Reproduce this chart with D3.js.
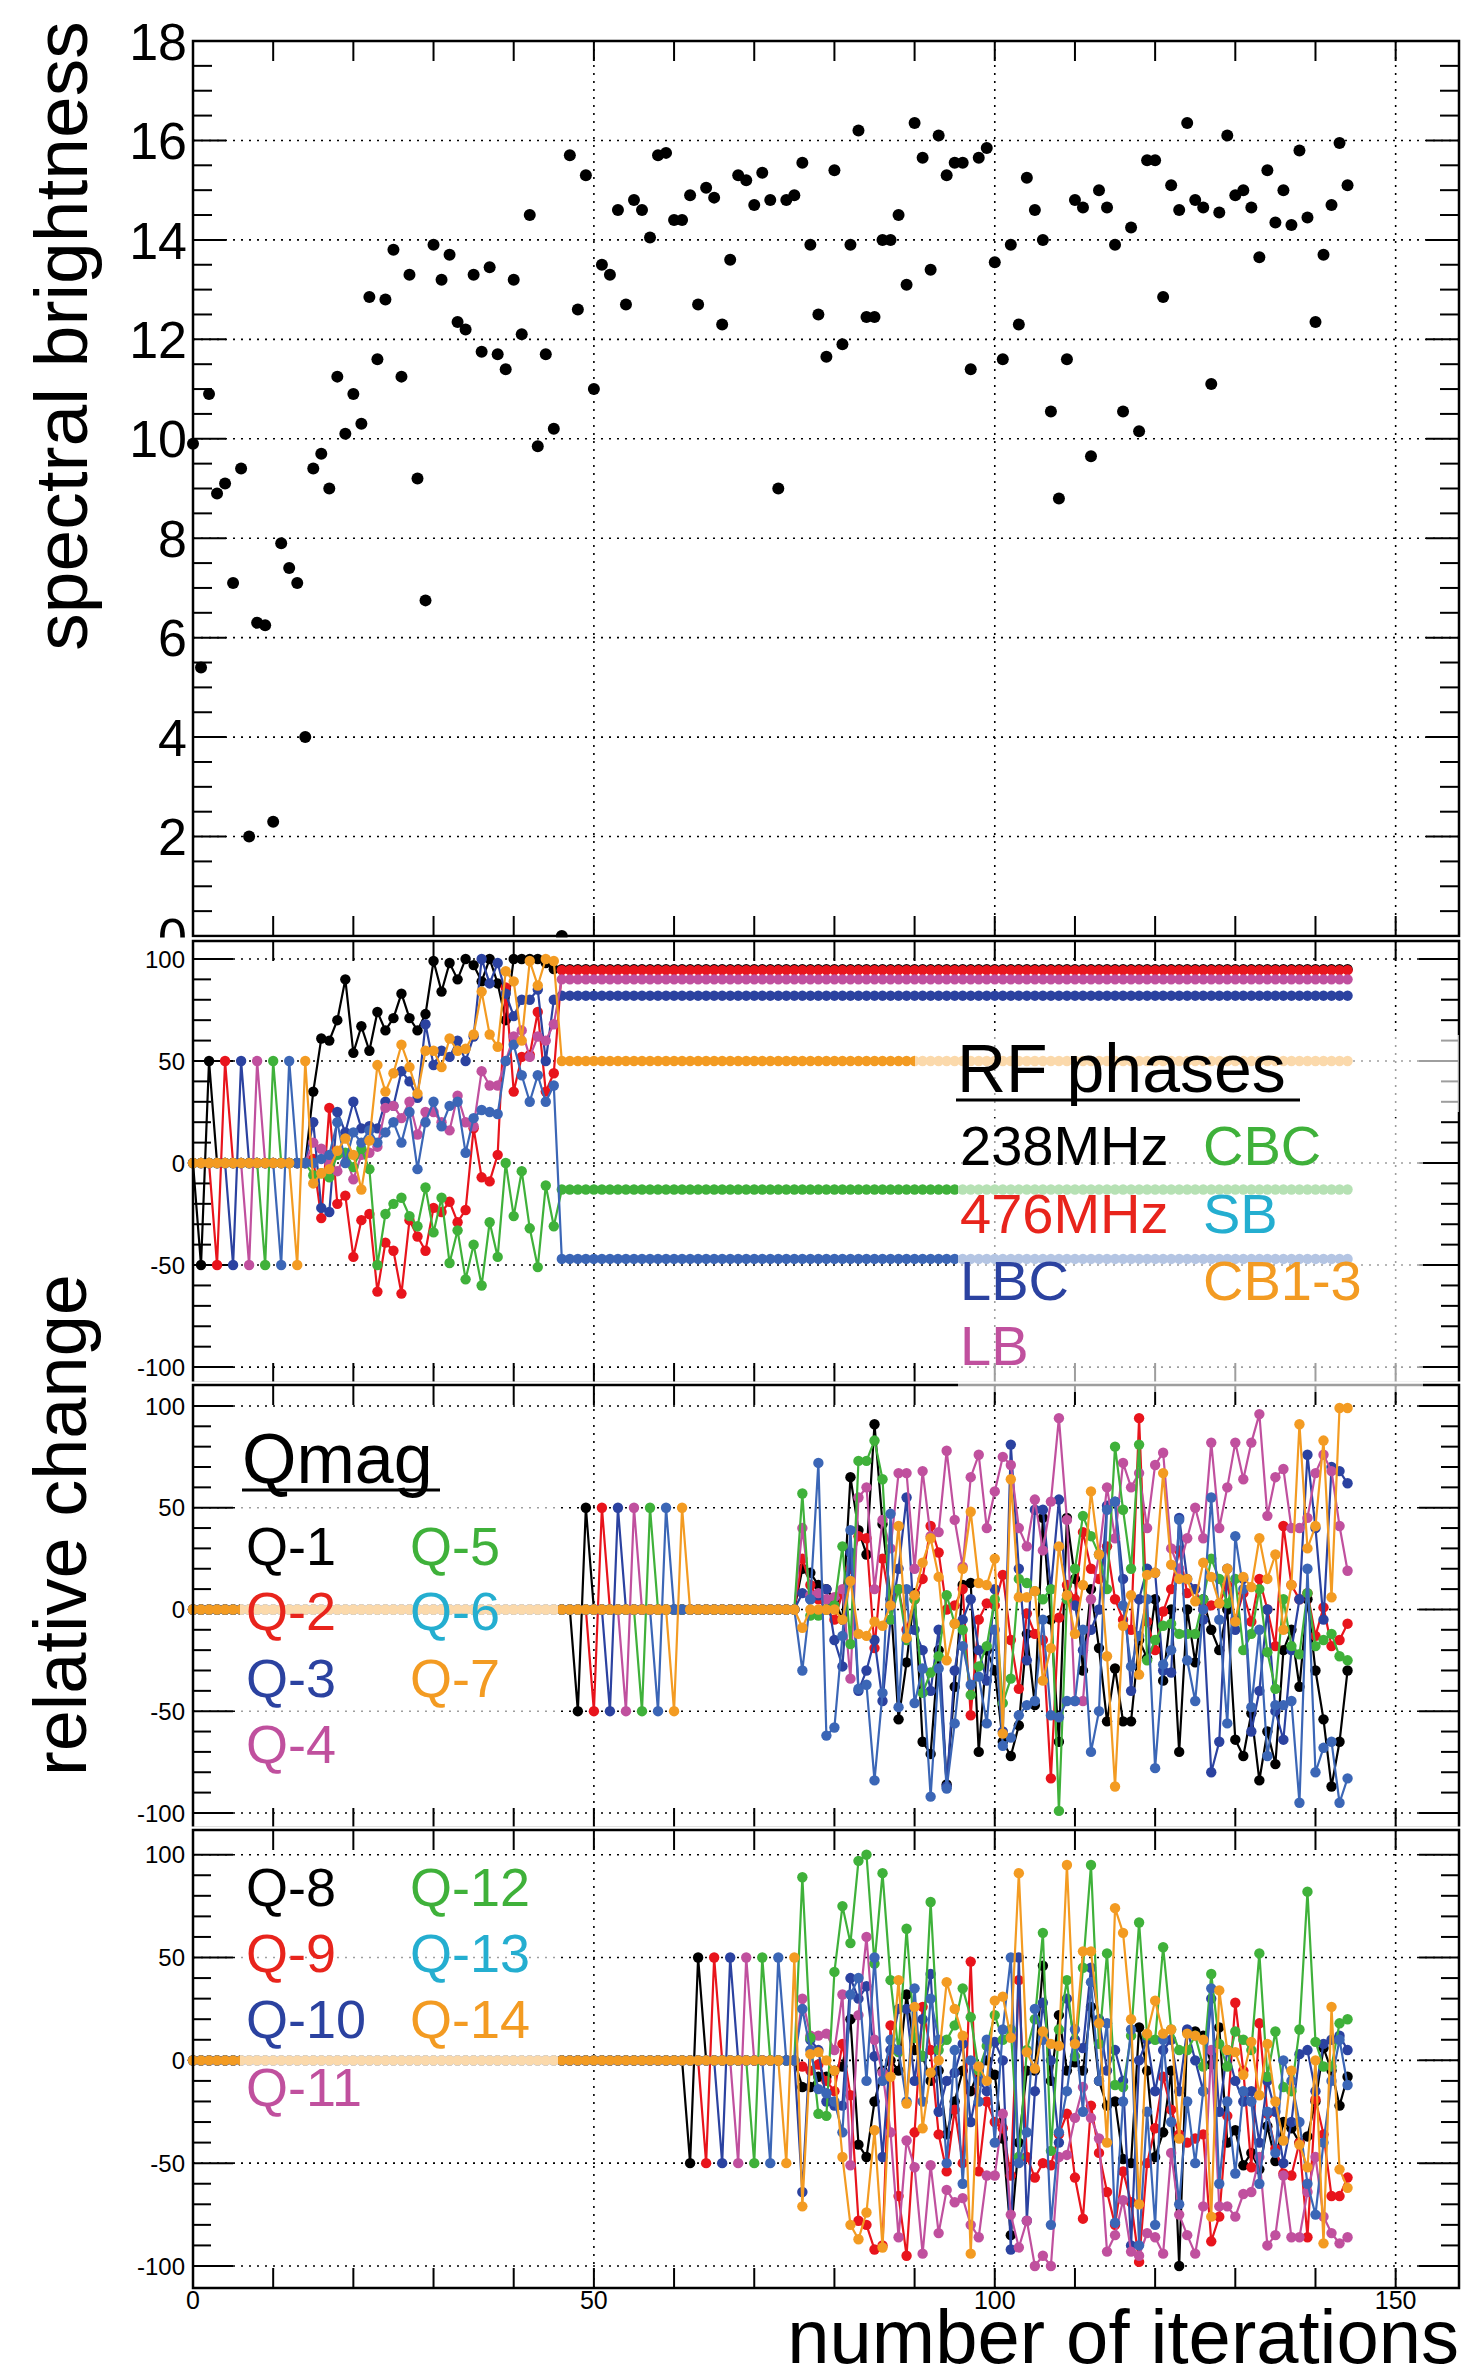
<!DOCTYPE html>
<html>
<head>
<meta charset="utf-8">
<script src="https://cdn.jsdelivr.net/npm/d3@7"></script>
<style>
  body { margin: 0; background: #fff; }
  svg { display: block; font-family: "Liberation Sans", Arial, Helvetica, sans-serif; }
</style>
</head>
<body>
<div id="chart"></div>
<script>
// ---------------- data ----------------
// spectral brightness, iteration 0..144
const brightness = [
  9.9, 5.4, 10.9, 8.9, 9.1, 7.1, 9.4, 2.0, 6.3, 6.25,
  2.3, 7.9, 7.4, 7.1, 4.0, 9.4, 9.7, 9.0, 11.25, 10.1,
  10.9, 10.3, 12.85, 11.6, 12.8, 13.8, 11.25, 13.3, 9.2, 6.75,
  13.9, 13.2, 13.7, 12.35, 12.2, 13.3, 11.75, 13.45, 11.7, 11.4,
  13.2, 12.1, 14.5, 9.85, 11.7, 10.2, 0, 15.7, 12.6, 15.3,
  11.0, 13.5, 13.3, 14.6, 12.7, 14.8, 14.6, 14.05, 15.7, 15.75,
  14.4, 14.4, 14.9, 12.7, 15.05, 14.85, 12.3, 13.6, 15.3, 15.2,
  14.7, 15.35, 14.8, 9.0, 14.8, 14.9, 15.55, 13.9, 12.5, 11.65,
  15.4, 11.9, 13.9, 16.2, 12.45, 12.45, 14.0, 14.0, 14.5, 13.1,
  16.35, 15.65, 13.4, 16.1, 15.3, 15.55, 15.55, 11.4, 15.65, 15.85,
  13.55, 11.6, 13.9, 12.3, 15.25, 14.6, 14.0, 10.55, 8.8, 11.6,
  14.8, 14.65, 9.65, 15.0, 14.65, 13.9, 10.55, 14.25, 10.15, 15.6,
  15.6, 12.85, 15.1, 14.6, 16.35, 14.8, 14.65, 11.1, 14.55, 16.1,
  14.9, 15.0, 14.65, 13.65, 15.4, 14.35, 15.0, 14.3, 15.8, 14.45,
  12.35, 13.7, 14.7, 15.95, 15.1
];

// RF phases, optimisation part (iteration 15..45)
const rfNames = ["238MHz", "476MHz", "LBC", "LB", "CBC", "SB", "CB1-3"];
const rf238 = [35, 61, 60, 70, 90, 54, 67, 55, 74, 65,
  71, 83, 71, 65, 73, 99, 84, 98, 90, 100,
  97, 89, 100, 88, 70, 100, 100, 100, 100, 98, 95];
const rf476 = [2, -27, 27, -20, -16, -46, -28, -25, -63, -39,
  -43, -64, -28, -36, -43, -22, -24, -19, -29, -23,
  17, -7, -9, 4, 86, 35, 52, 53, 74, 35, 44];
const rfLBC = [20, -22, -24, 25, 15, 30, 17, 18, 17, 30,
  28, 45, 40, 32, 68, 48, 55, 52, 60, 50,
  62, 100, 88, 98, 83, 72, 80, 80, 85, 50, 80];
const rfLB = [10, 7, 0, -4, 4, -8, 4, 5, 8, 27,
  28, 22, 30, 14, 25, 25, 20, 16, 33, 20,
  18, 45, 38, 38, 50, 62, 65, 52, 62, 60, 68];
const rfCBC = [-6, -5, -7, 4, 5, -2, 7, -3, -50, -25,
  -20, -17, -26, -31, -12, -34, -17, -49, -33, -57,
  -40, -60, -29, -46, 0, -26, -4, -32, -51, -11, -31];
const rfSB = [0, 2, 4, 20, 0, 15, 10, 16, 10, 15,
  20, 10, 25, -3, 20, 30, 18, 28, 30, 5,
  22, 26, 25, 24, 50, 58, 43, 30, 43, 30, 38];
const rfCB = [-10, -5, -3, 6, 12, 4, -13, 11, 48, 35,
  44, 58, 47, 34, 55, 55, 47, 61, 55, 56,
  63, 84, 63, 57, 94, 89, 60, 99, 87, 100, 99];
// values held from iteration 46 on
const rfHold = [95, 94.5, 82, 90, -13, -47, 50];

// Q magnets, optimisation part (iteration 76..144)
const qNamesA = ["Q-1", "Q-2", "Q-3", "Q-4", "Q-5", "Q-6", "Q-7"];
const qNamesB = ["Q-8", "Q-9", "Q-10", "Q-11", "Q-12", "Q-13", "Q-14"];
const q1 = [20, 18, 12, 10, 5, -5, 65, 39, 27, 91,
  42, 5, -54, -26, 8, -65, -71, -20, -86, -38,
  12, 13, -70, -20, -30, -65, -72, -57, -12, -47,
  45, -5, -65, 45, 15, -30, 10, -19, -55, -29,
  -55, -55, -15, -24, 5, -35, 0, -70, 0, -26,
  5, -10, -20, 0, -64, -72, -51, -84, -60, -76,
  -20, -10, -38, 5, -30, -54, -87, -65, -30];
const q2 = [25, 12, 5, 0, -5, 8, 20, 36, 35, -19,
  25, 2, 10, -10, 5, 15, 41, 28, 0, 2,
  10, -52, -5, 3, 2, 17, -15, -39, -2, -12,
  -15, -83, -4, 12, 5, 38, 20, 15, 31, 5,
  -5, -10, 94, -6, -20, -1, 10, 29, 8, 10,
  0, 2, 3, 12, -5, 8, -6, 15, 0, -18,
  41, 12, 5, 8, -13, 1, -18, -15, -7];
const q3 = [8, 5, 7, 10, -15, -28, 28, -40, -30, -15,
  -45, -5, 20, 55, -10, -20, -40, -10, -87, -30,
  -5, 5, -20, -35, 10, -60, 81, 20, -25, 49,
  49, 10, 54, 5, 2, -20, -10, 0, 51, 53,
  15, -40, 5, 20, 18, -30, -31, 45, 15, 10,
  -5, -80, -65, 20, -10, 15, -60, -40, 0, -50,
  -64, -20, 5, 76, 40, -5, 70, 68, 62];
const q4 = [40, 7, 8, 5, 6, 10, -34, 55, 60, 10,
  44, 30, 67, 67, 20, 68, 36, 38, 78, 44,
  21, 65, 76, 40, 58, 75, 71, 40, 31, 54,
  29, 53, 94, 44, -45, -45, 5, 27, 60, 35,
  72, 60, 67, 40, 71, 77, 30, 20, 35, 50,
  35, 82, 40, 60, 82, 64, 82, 96, 46, 65,
  69, 40, 40, 45, 67, 76, 68, 41, 19];
const q5 = [57, -3, -3, 0, 2, 31, -17, 73, 73, 83,
  64, -5, 10, -15, 5, -41, -31, -23, 7, -7,
  -10, -42, -28, -18, 5, -46, -34, 15, 13, 9,
  5, 10, -99, 5, 20, 46, 36, 27, 10, 80,
  49, 20, 81, -25, -15, -8, -7, -12, -12, -12,
  5, 25, 15, 3, 15, -20, -12, 10, -21, -39,
  5, -18, -22, 8, -18, -15, -12, -23, -25];
const q6 = [-30, 5, 72, -62, -58, -13, 39, -39, -37, -84,
  -41, 47, -48, 10, -46, -29, -92, -29, -88, -56,
  -18, -37, -33, -56, -10, -67, -63, -52, -47, -45,
  -5, -52, -53, -45, -45, -10, -70, -50, 49, 53,
  2, -28, -13, 5, -78, -27, -20, 44, -25, -45,
  0, 55, -5, -56, 36, 10, -48, -10, -72, -47,
  -47, -45, -95, 20, -80, -68, -65, -95, -83];
const q7 = [-9, 0, 0, 0, 0, -5, 14, -12, -13, -6,
  -8, 2, 41, -14, 7, 23, 35, 16, -25, -7,
  20, 48, 13, 12, 25, -61, 64, 6, 6, 9,
  -35, -19, 31, 7, -12, 12, 58, 27, -23, -87,
  -8, 7, -32, 17, 18, 67, 22, 15, 15, 4,
  23, 16, 3, 20, -6, 16, 11, 35, 15, 27,
  -10, 12, 91, 30, 41, 83, 6, 99, 99];
const q8 = [-13, -13, -8, -8, -5, -3, 20, -41, -47, -20,
  -5, 0, -5, 32, 5, 2, -10, -5, -36, -20,
  -5, -15, -5, 0, -7, -38, -85, -40, -5, -5,
  46, -10, 22, -5, -1, -5, 26, -10, -22, -20,
  -48, -50, 16, -5, -47, -35, -5, -100, 14, 14,
  12, -2, 16, -40, -34, -51, -45, -53, -32, -49,
  -30, -33, -40, -37, -20, 6, -5, -22, -8];
const q9 = [-3, -5, -2, -10, -15, 8, -17, -78, -80, -92,
  -90, 17, -66, -95, -35, 26, 5, -36, -54, -24,
  -50, 48, -54, -20, -30, -33, -56, 39, -47, -57,
  -50, -51, -36, -26, -57, -77, -22, -45, -64, -80,
  -54, -69, -98, -50, -33, -8, -24, -36, -40, -38,
  -36, -88, -76, -27, 28, -5, -52, 18, -26, -43,
  -55, -56, -40, -86, -19, -36, -66, -66, -57];
const q10 = [-64, 10, 5, -20, -22, -22, 40, 30, 36, 2,
  -47, 5, 25, 25, -10, 20, 42, -25, -10, -6,
  8, -30, -10, -15, 9, 0, -92, 50, -78, -15,
  28, 0, -40, 30, 10, 6, 45, 20, -5, 5,
  -10, -90, 0, 10, -15, 5, 10, -15, 15, 0,
  -15, 30, -25, 5, -10, -20, -15, -40, -10, -25,
  -50, -30, 3, 5, -15, 8, 10, 12, 5];
const q11 = [30, 12, 12, 13, 5, 32, -51, 22, 60, 10,
  -6, -35, -86, -39, -52, -94, -51, -84, -63, -69,
  -67, -80, -86, -56, -56, -26, -75, -91, -78, -100,
  -95, -100, -47, -46, -28, -13, -28, -38, -93, -85,
  -68, -93, -95, -84, -86, -94, -45, -75, -85, -94,
  -71, 5, -71, -71, -76, -65, -64, -47, -90, -85,
  -56, -86, -86, -64, -47, -76, -84, -89, -86];
const q12 = [89, 11, -26, -27, 43, 75, 57, 97, 100, 47,
  91, 39, 4, 64, 11, 2, 77, 5, 10, 17,
  35, 21, -5, 7, 22, 10, 15, -47, 5, 20,
  62, -44, 15, 39, 2, 45, 95, 8, 52, -12,
  -13, 12, 67, 12, 10, 55, 15, 5, 5, 12,
  -3, 42, 8, -3, 14, 10, 5, 52, -8, 14,
  -13, -15, 15, 82, 9, -3, -3, 18, 20];
const q13 = [25, 5, -14, -16, -20, -35, 32, 40, -10, 50,
  -10, 10, 5, -20, 35, -20, 30, 10, -50, 5,
  -60, 0, -20, 10, -40, 15, 50, -50, -35, 25,
  10, -80, -35, -15, 15, -25, 38, -10, 18, -79,
  -20, 15, -90, -25, -80, 10, -30, -70, -20, -50,
  -15, 35, -60, -20, -55, -15, -20, -60, -25, -45,
  0, -10, -30, -60, -75, -40, -10, 10, -12];
const q14 = [-71, 3, 4, 0, -5, -47, -80, -87, -74, -34,
  -91, -8, 39, -21, 26, -33, -6, 0, 38, 25,
  12, -94, -3, -10, 29, 31, 11, 91, 4, -4,
  14, 8, 7, 95, 8, 53, 53, 18, -40, 74,
  62, 20, -70, 13, 29, 13, 15, -38, 13, 12,
  10, -76, 34, 5, 4, -7, 9, -17, 8, -20,
  -39, -5, -41, -52, 0, -89, 26, -53, -62];

// scan steps: each knob goes -50 then +50, one after another
const sweepSteps = [-50, 50];
const rfSweepStart = 1, rfOptStart = 15;
const qaSweepStart = 48, qbSweepStart = 62, qOptStart = 76;
const lastIter = 144;

const xTicks = [0, 50, 100, 150];
const yTicksTop = [0, 2, 4, 6, 8, 10, 12, 14, 16, 18];
const yTicksLow = [-100, -50, 0, 50, 100];

const lineColors = ["#000000", "#e8141c", "#2b42a0", "#c0509e", "#3fb13a", "#3b66b6", "#f39b22"];
const textColors = ["#000000", "#e8241c", "#2b42a0", "#c0509e", "#3fb13a", "#24aed0", "#f39b22"];

// ---------------- layout ----------------
const width = 1461, height = 2380;
const x = d3.scaleLinear().domain([0, 157.9]).range([193, 1459]);

const panels = [
  { top: 41, bottom: 936, domain: [0, 18] },
  { top: 941, bottom: 1383, domain: [-107.8, 108.8] },
  { top: 1385, bottom: 1828, domain: [-107.4, 110.3] },
  { top: 1830, bottom: 2288, domain: [-110.7, 112] }
];
panels.forEach(p => { p.y = d3.scaleLinear().domain(p.domain).range([p.bottom, p.top]); });

const svg = d3.select("#chart").append("svg")
  .attr("width", width).attr("height", height);
svg.append("rect").attr("width", width).attr("height", height).attr("fill", "#fff");

function buildSeries(k, sweepStart, optStart, optVals, holdVal) {
  const pts = [];
  for (let i = 0; i <= lastIter; i++) {
    let v = 0;
    const s = i - sweepStart - 2 * k;
    if (s === 0 || s === 1) v = sweepSteps[s];
    else if (i >= optStart && i - optStart < optVals.length) v = optVals[i - optStart];
    else if (holdVal !== undefined && i >= optStart + optVals.length) v = holdVal;
    pts.push([i, v]);
  }
  return pts;
}

function drawFrame(p, idx, majorY, minorY, majLen, minLen) {
  const g = svg.append("g");
  const y = p.y;
  const x0 = x.range()[0], x1 = x.range()[1];
  // dotted grid
  majorY.filter(v => y(v) > p.top + 2 && y(v) < p.bottom - 2).forEach(v => {
    g.append("line").attr("x1", x0).attr("x2", x1).attr("y1", y(v)).attr("y2", y(v))
      .attr("stroke", "#000").attr("stroke-width", 1.6).attr("stroke-dasharray", "2,6");
  });
  [50, 100, 150].forEach(v => {
    g.append("line").attr("x1", x(v)).attr("x2", x(v)).attr("y1", p.top).attr("y2", p.bottom)
      .attr("stroke", "#000").attr("stroke-width", 1.6).attr("stroke-dasharray", "2,6");
  });
  // y ticks both sides
  minorY.forEach(v => {
    const len = majorY.includes(v) ? majLen : minLen;
    g.append("line").attr("x1", x0).attr("x2", x0 + len).attr("y1", y(v)).attr("y2", y(v))
      .attr("stroke", "#000").attr("stroke-width", 2);
    g.append("line").attr("x1", x1).attr("x2", x1 - len).attr("y1", y(v)).attr("y2", y(v))
      .attr("stroke", "#000").attr("stroke-width", 2);
  });
  // x ticks top and bottom
  d3.range(0, 151, 10).forEach(v => {
    g.append("line").attr("x1", x(v)).attr("x2", x(v)).attr("y1", p.bottom).attr("y2", p.bottom - 20)
      .attr("stroke", "#000").attr("stroke-width", 2);
    g.append("line").attr("x1", x(v)).attr("x2", x(v)).attr("y1", p.top).attr("y2", p.top + 20)
      .attr("stroke", "#000").attr("stroke-width", 2);
  });
  // y tick labels
  const big = idx === 0;
  g.selectAll("text.yl").data(majorY).enter().append("text")
    .attr("x", big ? 187 : 185).attr("y", v => y(v)).attr("dy", "0.36em")
    .attr("text-anchor", "end").attr("font-size", big ? 52 : 24)
    .text(v => String(v));
  return g;
}

function drawBox(p) {
  svg.append("rect").attr("x", x.range()[0]).attr("y", p.top)
    .attr("width", x.range()[1] - x.range()[0]).attr("height", p.bottom - p.top)
    .attr("fill", "none").attr("stroke", "#000").attr("stroke-width", 2.5);
}

function drawSeries(p, series, color) {
  svg.append("path").datum(series)
    .attr("d", d3.line().x(d => x(d[0])).y(d => p.y(d[1])))
    .attr("fill", "none").attr("stroke", color).attr("stroke-width", 2.2);
  svg.append("g").selectAll("circle").data(series).enter().append("circle")
    .attr("cx", d => x(d[0])).attr("cy", d => p.y(d[1])).attr("r", 5.2)
    .attr("fill", color);
}

// ---------------- panel 1: spectral brightness ----------------
const p1 = panels[0];
drawFrame(p1, 0, yTicksTop, d3.range(0, 18.01, 0.5).map(v => +v.toFixed(1)), 33, 19);
svg.append("g").selectAll("circle").data(brightness).enter().append("circle")
  .attr("cx", (d, i) => x(i)).attr("cy", d => p1.y(d)).attr("r", 6).attr("fill", "#000");
drawBox(p1);

// ---------------- lower panels ----------------
const lowerSets = [
  { p: panels[1], sweep: rfSweepStart, opt: rfOptStart,
    vals: [rf238, rf476, rfLBC, rfLB, rfCBC, rfSB, rfCB], hold: rfHold },
  { p: panels[2], sweep: qaSweepStart, opt: qOptStart,
    vals: [q1, q2, q3, q4, q5, q6, q7], hold: null },
  { p: panels[3], sweep: qbSweepStart, opt: qOptStart,
    vals: [q8, q9, q10, q11, q12, q13, q14], hold: null }
];

lowerSets.forEach((set, n) => {
  const p = set.p;
  // pad background hides what falls below the pad above
  svg.append("rect").attr("x", 0).attr("y", p.top - 3.5).attr("width", width)
    .attr("height", p.bottom - p.top + 3.5).attr("fill", "#fff");
  drawFrame(p, n + 1, yTicksLow, d3.range(-100, 101, 10), 40, 18);
  set.vals.forEach((vals, k) => {
    const s = buildSeries(k, set.sweep, set.opt, vals, set.hold ? set.hold[k] : undefined);
    drawSeries(p, s, lineColors[k]);
  });
  drawBox(p);
});

// ---------------- x axis labels ----------------
svg.append("g").selectAll("text").data(xTicks).enter().append("text")
  .attr("x", d => x(d)).attr("y", 2309).attr("text-anchor", "middle")
  .attr("font-size", 25).text(d => d);

svg.append("text").attr("x", 1459).attr("y", 2363).attr("text-anchor", "end")
  .attr("font-size", 76).text("number of iterations");

svg.append("text").attr("transform", "translate(87,336) rotate(-90)")
  .attr("text-anchor", "middle").attr("font-size", 75).text("spectral brightness");
svg.append("text").attr("transform", "translate(86,1525) rotate(-90)")
  .attr("text-anchor", "middle").attr("font-size", 74).text("relative change");

// ---------------- legends (semi-transparent boxes) ----------------
function fadeBox(x0, y0, x1, y1) {
  svg.append("rect").attr("x", x0).attr("y", y0).attr("width", x1 - x0).attr("height", y1 - y0)
    .attr("fill", "#fff").attr("fill-opacity", 0.62);
}
function legendText(str, tx, ty, size, color) {
  svg.append("text").attr("x", tx).attr("y", ty).attr("font-size", size)
    .attr("fill", color).text(str);
}

// RF phases
fadeBox(915, 1035, 1459, 1112);
fadeBox(958, 1118, 1423, 1392);
legendText("RF phases", 957, 1092, 68, "#000");
svg.append("line").attr("x1", 956).attr("x2", 1300).attr("y1", 1100).attr("y2", 1100)
  .attr("stroke", "#000").attr("stroke-width", 3);
const rfRows = [1165, 1233, 1300, 1365];
[0, 1, 2, 3].forEach((k, r) => legendText(rfNames[k], 960, rfRows[r], 56, textColors[k]));
[4, 5, 6].forEach((k, r) => legendText(rfNames[k], 1203, rfRows[r], 56, textColors[k]));

// Qmag (Q-1..Q-7)
fadeBox(240, 1420, 558, 1800);
legendText("Qmag", 242, 1483, 70, "#000");
svg.append("line").attr("x1", 242).attr("x2", 440).attr("y1", 1490).attr("y2", 1490)
  .attr("stroke", "#000").attr("stroke-width", 3);
const qaRows = [1565, 1630, 1697, 1763];
[0, 1, 2, 3].forEach((k, r) => legendText(qNamesA[k], 246, qaRows[r], 54, textColors[k]));
[4, 5, 6].forEach((k, r) => legendText(qNamesA[k], 410, qaRows[r], 54, textColors[k]));

// Q-8..Q-14
fadeBox(240, 1858, 558, 2125);
const qbRows = [1906, 1972, 2038, 2106];
[0, 1, 2, 3].forEach((k, r) => legendText(qNamesB[k], 246, qbRows[r], 54, textColors[k]));
[4, 5, 6].forEach((k, r) => legendText(qNamesB[k], 410, qbRows[r], 54, textColors[k]));
</script>
</body>
</html>
